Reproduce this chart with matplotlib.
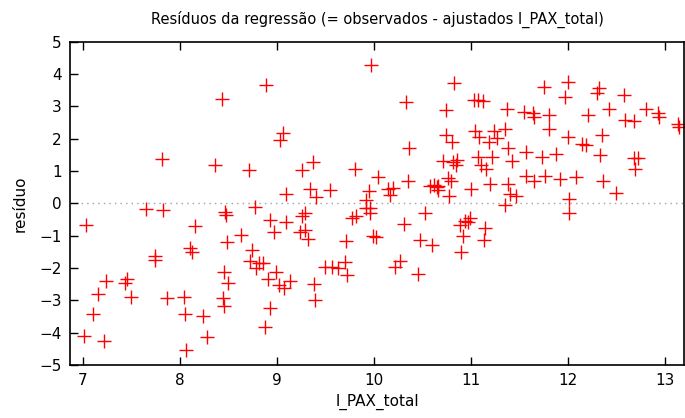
import numpy as np
from matplotlib import pyplot as plt

# residuals (x = l_PAX_total, y = residual)
x_vals = [7.01, 7.03, 7.10, 7.15, 7.22, 7.24, 7.43, 7.45, 7.50, 7.65, 7.74, 7.74, 7.82, 7.83, 7.87,
          8.04, 8.05, 8.06, 8.10, 8.12, 8.16, 8.24, 8.28, 8.36, 8.43, 8.45, 8.44, 8.45, 8.47, 8.46,
          8.48, 8.50, 8.63, 8.71, 8.72, 8.74, 8.77, 8.78, 8.82, 8.86, 8.88, 8.89, 8.91, 8.93, 8.93,
          8.97, 8.99, 9.02, 9.03, 9.06, 9.07, 9.09, 9.09, 9.13, 9.24, 9.26, 9.26, 9.29, 9.29, 9.32,
          9.34, 9.37, 9.38, 9.39, 9.40, 9.50, 9.55, 9.57, 9.63, 9.70, 9.71, 9.72, 9.80, 9.77, 9.81,
          9.92, 9.92, 9.95, 9.96, 9.96, 9.97, 9.99, 10.02, 10.04, 10.15, 10.17, 10.20, 10.22, 10.27, 10.31,
          10.33, 10.35, 10.36, 10.45, 10.48, 10.53, 10.58, 10.60, 10.62, 10.65, 10.66, 10.66, 10.71, 10.74, 10.74,
          10.76, 10.77, 10.79, 10.81, 10.80, 10.83, 10.85, 10.86, 10.89, 10.90, 10.92, 10.94, 10.97, 10.99, 11.00,
          11.03, 11.04, 11.07, 11.07, 11.08, 11.10, 11.12, 11.13, 11.14, 11.16, 11.19, 11.20, 11.22, 11.24, 11.27,
          11.35, 11.35, 11.37, 11.38, 11.38, 11.40, 11.42, 11.46, 11.55, 11.57, 11.57, 11.64, 11.65, 11.65, 11.75,
          11.73, 11.76, 11.80, 11.80, 11.88, 11.92, 11.97, 12.00, 12.00, 12.01, 12.01, 12.08, 12.15, 12.19, 12.21,
          12.30, 12.32, 12.33, 12.35, 12.36, 12.42, 12.50, 12.58, 12.59, 12.68, 12.68, 12.69, 12.72, 12.81, 12.93,
          12.94, 13.14, 13.15]
y_vals = [-4.10, -0.66, -3.43, -2.80, -4.26, -2.40, -2.47, -2.35, -2.90, -0.17, -1.63, -1.75, 1.38, -0.20, -2.93,
          -2.90, -3.42, -4.53, -1.38, -1.50, -0.70, -3.48, -4.13, 1.19, 3.23, -2.12, -2.93, -3.17, -0.36, -0.26,
          -1.20, -2.46, -0.98, 1.04, -1.78, -1.44, -0.10, -2.00, -1.84, -1.84, -3.82, 3.67, -2.34, -0.51, -3.23,
          -0.88, -2.12, -2.52, 1.96, 2.18, -2.62, -0.57, 0.29, -2.40, -0.88, 1.04, -0.39, -0.29, -0.82, -1.10,
          0.45, 1.28, -2.49, -2.98, 0.20, -1.97, 0.42, -1.97, -2.00, -1.81, -1.16, -2.21, 1.07, -0.45, -0.39,
          0.11, -0.14, 0.39, -0.14, -0.29, 4.29, -1.00, -1.04, 0.82, 0.45, 0.26, 0.48, -1.97, -1.78, -0.63,
          3.14, 0.70, 1.72, -2.18, -1.13, -0.29, 0.54, -1.29, 0.57, 0.51, 0.42, 0.55, 1.32, 2.89, 2.12,
          0.79, 0.23, 0.70, 1.28, 1.90, 3.73, 1.19, 1.35, -0.66, -1.50, -1.00, -0.54, -0.57, -0.45, 0.45,
          3.20, 2.24, 1.44, 3.20, 2.06, 1.19, 3.17, -1.13, -0.76, 1.07, 1.90, 0.60, 1.44, 2.24, 2.03,
          2.30, -0.05, 2.92, 1.72, 0.60, 0.29, 1.32, 0.23, 2.83, 1.59, 0.85, 2.80, 0.70, 2.68, 3.60,
          1.44, 0.85, 2.30, 2.74, 1.53, 0.76, 3.30, 3.76, 2.06, 0.14, -0.29, 0.82, 1.84, 1.81, 2.74,
          3.42, 3.58, 1.50, 2.12, 0.70, 2.92, 0.32, 3.36, 2.58, 2.55, 1.41, 1.07, 1.41, 2.92, 2.80,
          2.68, 2.46, 2.37]

x_ticks = [7, 8, 9, 10, 11, 12, 13]
y_ticks = [-5, -4, -3, -2, -1, 0, 1, 2, 3, 4, 5]

fig = plt.figure(figsize=(6.85, 4.18), dpi=100)
ax = fig.add_axes([0.102, 0.127, 0.897, 0.773])

ax.axhline(0, color='#a0a0a0', linestyle=(0, (1, 3)), linewidth=1, zorder=1)
ax.plot(x_vals, y_vals, linestyle='none', marker='+', markersize=10,
        markeredgewidth=1.0, color='#ff0000', zorder=2)

ax.set_xlim(6.865, 13.2)
ax.set_ylim(-5, 5)
ax.set_xticks(x_ticks)
ax.set_yticks(y_ticks)
ax.tick_params(direction='in', length=6, width=1, top=True, right=False,
               labelsize=11, pad=6)
for s in ax.spines.values():
    s.set_linewidth(1.2)

ax.set_xlabel('l_PAX_total', fontsize=11, labelpad=4)
ax.set_ylabel('resíduo', fontsize=11, labelpad=8)
ax.set_title('Resíduos da regressão (= observados - ajustados l_PAX_total)',
             fontsize=10.5, pad=13)

fig.savefig('out.png', dpi=100)
